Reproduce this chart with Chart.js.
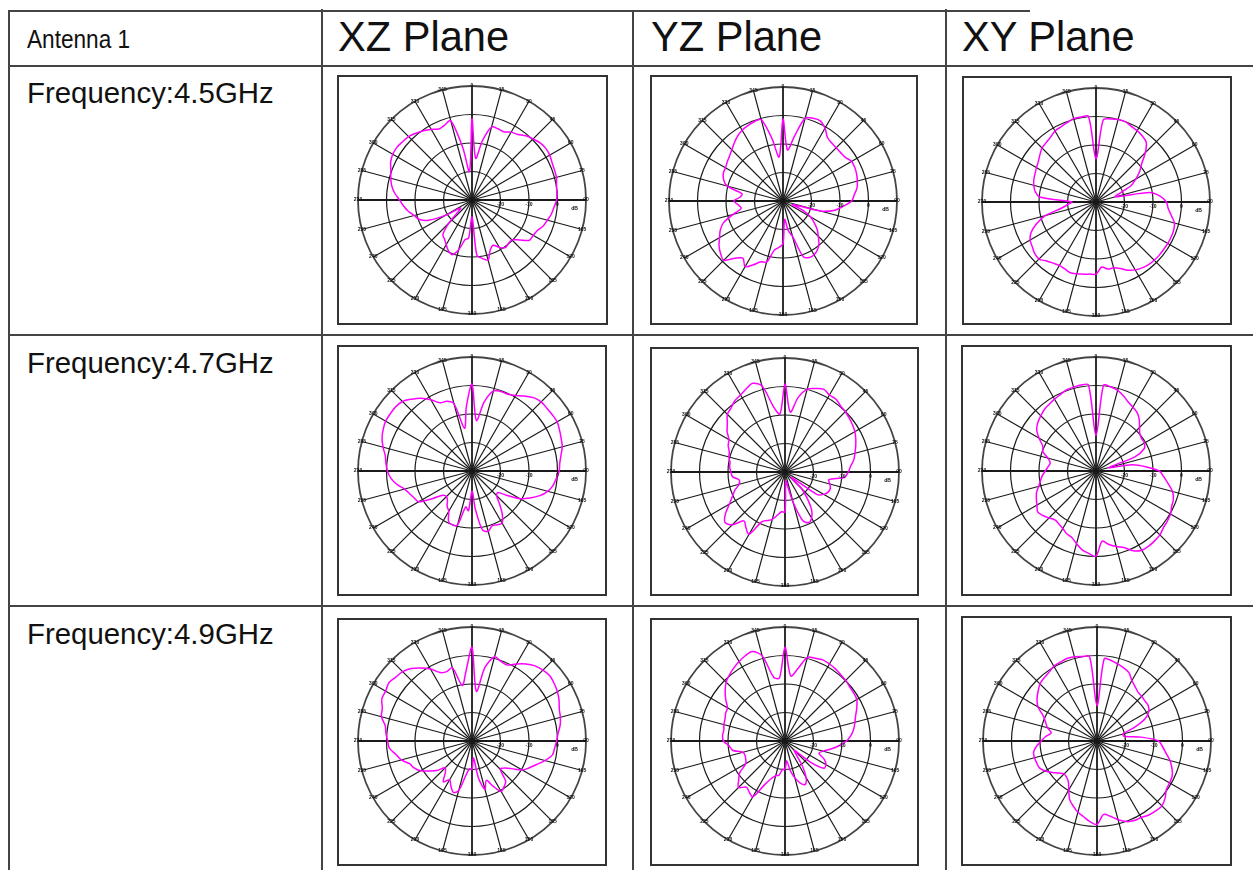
<!DOCTYPE html>
<html>
<head>
<meta charset="utf-8">
<script src="https://cdn.jsdelivr.net/npm/chart.js@4"></script>
<style>
  html, body { margin: 0; background: #fff; overflow: hidden; }
  body { width: 1253px; height: 870px; position: relative; font-family: "Liberation Sans", Arial, sans-serif; color: #111; }
  .line { position: absolute; background: #444; }
  .txt { position: absolute; white-space: nowrap; line-height: 1; }
  .plane { font-size: 41.6px; }
  .freq { font-size: 29.4px; }
  .ant { font-size: 26px; transform: scaleX(.87); transform-origin: left top; }
  .frame { position: absolute; border: 2px solid #333; box-sizing: border-box; }
  canvas { position: absolute; filter: blur(.35px); }
</style>
</head>
<body>
<div class="line" style="left:8px;top:10px;width:1022px;height:2px"></div>
<div class="line" style="left:8px;top:65px;width:1245px;height:2px"></div>
<div class="line" style="left:8px;top:334px;width:1245px;height:2px"></div>
<div class="line" style="left:8px;top:605px;width:1245px;height:2px"></div>
<div class="line" style="left:8px;top:10px;width:2px;height:860px"></div>
<div class="line" style="left:321px;top:9px;width:2px;height:861px"></div>
<div class="line" style="left:632px;top:10px;width:2px;height:860px"></div>
<div class="line" style="left:945px;top:9px;width:2px;height:861px"></div>
<div id="labels"></div>
<div id="plots"></div>
<script>
// Table text
const antennaLabel = 'Antenna 1';
const planes = ['XZ Plane', 'YZ Plane', 'XY Plane'];
const frequencies = ['Frequency:4.5GHz', 'Frequency:4.7GHz', 'Frequency:4.9GHz'];

// Angle categories, degrees clockwise from the top
const angles = [
  0, 5, 10, 15, 20, 25, 30, 35, 40, 45, 50, 55,
  60, 65, 70, 75, 80, 85, 90, 95, 100, 105, 110, 115,
  120, 125, 130, 135, 140, 145, 150, 155, 160, 165, 170, 175,
  180, 185, 190, 195, 200, 205, 210, 215, 220, 225, 230, 235,
  240, 245, 250, 255, 260, 265, 270, 275, 280, 285, 290, 295,
  300, 305, 310, 315, 320, 325, 330, 335, 340, 345, 350, 355
];
const spokeAngles = [0, 15, 30, 45, 60, 75, 90, 105, 120, 135, 150, 165, 180, 195, 210, 225, 240, 255, 270, 285, 300, 315, 330, 345];
const ringTicks = [-20, -10, 0];
const unitLabel = 'dB';

// Pattern values in dB, one per angle
const xz45 = [
  -1.4, -15.3, -8.8, -3.5, -3.4, -3.6, -2.5, -1.9, -0.6, 0.3, 1.2, 1.6,
  1.5, 1.0, 0.8, 0.7, 0.1, -0.1, -0.3, -1.1, -1.7, -2.6, -3.4, -4.7,
  -5.2, -5.4, -8.2, -10.2, -10.1, -9.6, -10.8, -12.5, -11.3, -8.2, -9.2, -10.6,
  -24, -16.6, -15.8, -11.9, -9.6, -10.4, -11.9, -13.2, -14.1, -18.5, -23.8, -25.1,
  -19.2, -13.1, -10.2, -9.0, -7.3, -5.9, -4.6, -2.8, -1.4, -0.5, 0.3, 1.5,
  2.1, 2.2, 1.8, 1.5, 0.6, -0.3, -1.4, -2.5, -2.0, -1.2, -11.3, -20
];
const yz45 = [
  -1.2, -12, -7, 0.1, 0.9, 1.0, -0.5, -2.8, -3.4, -3.6, -3.6, -3.3,
  -2.2, -2.2, -2.5, -3, -3.6, -4.9, -5.9, -8.8, -11.5, -16.4, -26.5, -22.4,
  -18.9, -16.6, -14.3, -12.5, -10.4, -9, -8.2, -8.1, -9.2, -17.2, -19.5, -23.5,
  -15, -13.7, -12.5, -7.8, -7.3, -5.3, -3.4, -5.5, -3.8, -0.6, -1.4, -2.6,
  -4.3, -5.7, -7.8, -11.9, -15.1, -14.3, -12.7, -14.8, -15.4, -9.6, -7.8, -6.9,
  -6.7, -6.1, -5.5, -4.6, -3.4, -2.2, -1.3, -0.8, -0.4, -0.4, -7.8, -14.5
];
const xy45 = [
  -14.8, -1.1, -0.4, 0, 0, -0.7, -1.1, -1.7, -2.6, -5.5, -9.1, -11.3,
  -13.9, -16.5, -21.3, -23, -10.9, -7.3, -5.3, -4.6, -3.2, -1.5, -1, -0.9,
  -0.9, -1, -1, -1.1, -1.3, -1.8, -2.5, -3.6, -5.2, -6.1, -6.1, -7.1,
  -4.7, -4.6, -4.3, -3.9, -3.6, -4.1, -4.3, -3.8, -3, -1.7, -1.9, -2.7,
  -3.3, -4.9, -7.8, -11.6, -17.8, -20.1, -21.5, -10.2, -8.3, -7.4, -6.8, -6.4,
  -5.9, -5.3, -4.3, -3.2, -2.8, -2.2, -1.2, -0.9, -0.4, 0.3, 0.3, 0.1
];
const xz47 = [
  0.5, -12.2, -5.5, -0.9, -0.3, -0.3, 0.6, 2.1, 3.6, 4.3, 4.3, 4.4,
  4.5, 3.9, 3.3, 2.8, 1.7, 0.9, 0.6, -0.3, -1.1, -2.5, -4.7, -7.6,
  -10.6, -15.2, -18.2, -17.8, -15, -11.5, -8.9, -9.2, -9.5, -8.1, -9, -16.6,
  -23, -16, -17.2, -10.4, -9.9, -10.5, -13.7, -14.8, -16.6, -17.3, -16.8, -13.2,
  -8.4, -7.6, -6.7, -5.5, -3.2, -1.4, -0.3, 0.3, 0.9, 2.3, 3.6, 4.4,
  5, 5, 5, 4.5, 2.9, 1.2, -1.1, -3.6, -4, -5.5, -14.8, -7.3
];
const yz47 = [
  0.9, -8.9, -3.4, 0.1, 1.2, 2.1, 1.2, 1.2, 0.3, -0.1, -0.6, -1.1,
  -1.7, -2.6, -3.6, -4.6, -5.5, -6.9, -7.8, -9, -14.4, -13.7, -13.1, -13.3,
  -14.3, -16.2, -27, -21.8, -17.8, -13.7, -11.3, -10.4, -11.9, -18.9, -25.3, -27,
  -16, -16, -14.6, -12.8, -11.9, -10.8, -4.8, -6.1, -7.6, -3.8, -2.5, -4.5,
  -7.5, -9.6, -11.3, -13.3, -13.7, -11.5, -11, -10.5, -10.4, -9.6, -9.2, -8,
  -7.3, -5.2, -3.6, -1.4, -0.6, 0.6, 1.2, 2.2, 3.1, 1.3, -6.7, -9.6
];
const xy47 = [
  -17.5, 0.2, -0.1, -0.7, -1.9, -3.3, -4.1, -4.9, -6.4, -8.4, -9.9, -10.4,
  -10.4, -11.3, -15.5, -25.3, -17.2, -12.5, -7.8, -6.1, -4.3, -2.2, -1.1, -0.7,
  0.2, 0.6, 0.9, 1.7, 2, 2.2, 2.1, 0.9, -1.4, -2.6, -3.8, -5.3,
  -0.1, -1, -1.9, -3.6, -5.2, -5.7, -6.7, -7.3, -7.6, -6.7, -5.7, -5,
  -6.1, -6.9, -7.8, -9.2, -10.2, -11.1, -12.2, -13.1, -13.7, -12.5, -10.2, -9.4,
  -6.9, -4.6, -3.4, -2.6, -1.8, -1.4, -0.9, -0.4, 0.3, 0.4, 0.6, 0.3
];
const xz49 = [
  2.9, -12.5, -3.8, 0.6, -0.3, -0.6, 1.2, 3, 4.4, 5.2, 5.6, 5.2,
  4.6, 3.7, 2.6, 2.1, 1.4, 0.3, -0.3, -0.9, -1.4, -3.5, -5.9, -7.8,
  -9.6, -13.1, -15.2, -16, -11.6, -10.4, -9.6, -12.5, -15.3, -12.5, -16.6, -24,
  -20, -20.2, -17.8, -12, -10.8, -12.5, -14.3, -12.5, -15.4, -16.7, -13.9, -11.7,
  -9.1, -7.6, -6.7, -4.3, -2.9, -0.9, -0.4, 0.3, 0.9, 2.9, 3.5, 4.9,
  5, 5.6, 4.9, 4.4, 3.2, 1.3, -0.8, -3.5, -4.1, -3.4, -10.2, -5.5
];
const yz49 = [
  2.9, -7.1, -4.3, 0.4, 0.9, 1.4, 1.2, 0.9, 0.4, 0.1, -0.4, -0.6,
  -0.9, -2.2, -3.6, -4.6, -5.5, -6.7, -8.4, -11, -13.7, -16.2, -17.3, -14.8,
  -13.4, -13.3, -18.8, -25.3, -24, -19.5, -15.2, -13.2, -14.3, -16.6, -19.5, -23,
  -20, -20, -17.8, -17.4, -16, -13.1, -7.4, -8.1, -8.9, -6.9, -8.8, -10.6,
  -14.1, -14.8, -15.1, -14.7, -11.3, -10.3, -8.4, -8, -8.2, -7.8, -7.6, -7,
  -6.7, -4.6, -2.6, -0.8, 0.3, 1.3, 2.2, 3, 3.4, 0.9, -7.3, -7.8
];
const xy49 = [
  -17.5, -1.1, -1.3, -2, -2.7, -3.5, -5.5, -6.7, -7.6, -7.8, -8.1, -8.1,
  -9, -11.3, -16, -20.6, -20.4, -14.4, -8.4, -6.9, -5.4, -3.5, -2, -0.9,
  -0.6, -0.3, 1.2, 2.2, 2, 1.7, 1, 0.8, 0.1, -1.4, -3.2, -4.1,
  -0.7, -1.6, -3, -4.1, -5.7, -7.3, -10.2, -12.5, -13.4, -13.7, -12.5, -10.8,
  -9, -7.7, -7.5, -7.3, -7.4, -8.7, -10.5, -11.9, -13.7, -12, -10.8, -9.2,
  -6.1, -4.3, -3, -1.7, -1.1, -0.6, 0.3, 0.5, 0.8, 0.6, 0.1, -0.3
];

// Page layout of the nine plots: [series, centre x, centre y, frame left, top, right, bottom]
const plots = [
  [xz45, 472, 200, 337, 75, 608, 325],
  [yz45, 783, 201, 650, 75, 918, 325],
  [xy45, 1096, 202, 962, 76, 1232, 325],
  [xz47, 472, 471, 337, 345, 607, 596],
  [yz47, 785, 472, 650, 347, 919, 596],
  [xy47, 1096, 471, 961, 345, 1232, 596],
  [xz49, 472, 741, 337, 618, 607, 866],
  [yz49, 785, 741, 650, 618, 919, 866],
  [xy49, 1097, 741, 961, 616, 1232, 866]
];

// Table text
function addText(parent, cls, text, x, y) {
  const el = document.createElement('div');
  el.className = 'txt ' + cls;
  el.textContent = text;
  el.style.left = x + 'px';
  el.style.top = y + 'px';
  parent.appendChild(el);
}
const labelBox = document.getElementById('labels');
addText(labelBox, 'ant', antennaLabel, 27, 26);
[338, 651, 962].forEach((x, i) => addText(labelBox, 'plane', planes[i], x, 16));
[78, 348, 619].forEach((y, i) => addText(labelBox, 'freq', frequencies[i], 27, y));

// Angle numbers sit on the outer ring, dB numbers under the right hand axis
const polarText = {
  id: 'polarText',
  afterDraw(chart) {
    const r = chart.scales.r;
    const c = chart.ctx;
    c.save();
    c.fillStyle = '#111';
    c.textAlign = 'center';
    c.textBaseline = 'middle';
    c.font = 'bold 5px "Liberation Sans"';
    spokeAngles.forEach(a => {
      const p = r.getPointPosition(angles.indexOf(a), r.drawingArea);
      c.fillText(String(a), p.x, p.y);
    });
    const east = angles.indexOf(90);
    ringTicks.forEach(v => {
      const p = r.getPointPositionForValue(east, v);
      c.fillText(String(v), p.x, p.y + 5);
    });
    const u = r.getPointPositionForValue(east, 6);
    c.fillText(unitLabel, u.x, u.y + 9);
    c.restore();
  }
};

const box = document.getElementById('plots');
plots.forEach(([series, cx, cy, fl, ft, fr, fb]) => {
  const frame = document.createElement('div');
  frame.className = 'frame';
  frame.style.cssText = `left:${fl}px;top:${ft}px;width:${fr - fl}px;height:${fb - ft}px`;
  box.appendChild(frame);

  const cv = document.createElement('canvas');
  cv.width = 248;
  cv.height = 248;
  cv.style.left = (cx - 124) + 'px';
  cv.style.top = (cy - 124) + 'px';
  box.appendChild(cv);

  new Chart(cv.getContext('2d'), {
    type: 'radar',
    data: {
      labels: angles,
      datasets: [{
        data: series,
        borderColor: '#ff00ff',
        borderWidth: 1.5,
        fill: false,
        pointRadius: 0,
        tension: .3
      }]
    },
    options: {
      responsive: false,
      animation: false,
      layout: { padding: 10 },
      plugins: { legend: { display: false }, tooltip: { enabled: false } },
      scales: {
        r: {
          min: -30,
          max: 10,
          ticks: { display: false, stepSize: 10 },
          pointLabels: { display: false },
          grid: {
            circular: true,
            color: ctx => ctx.index === 4 ? '#444' : '#1a1a1a',
            lineWidth: ctx => ctx.index === 4 ? 1.8 : 1.2
          },
          angleLines: {
            color: '#1a1a1a',
            lineWidth: ctx => {
              const a = angles[ctx.index];
              if (a % 15 !== 0) return 0;
              return a % 90 === 0 ? 1.8 : 1.2;
            }
          }
        }
      }
    },
    plugins: [polarText]
  });
});
</script>
</body>
</html>
